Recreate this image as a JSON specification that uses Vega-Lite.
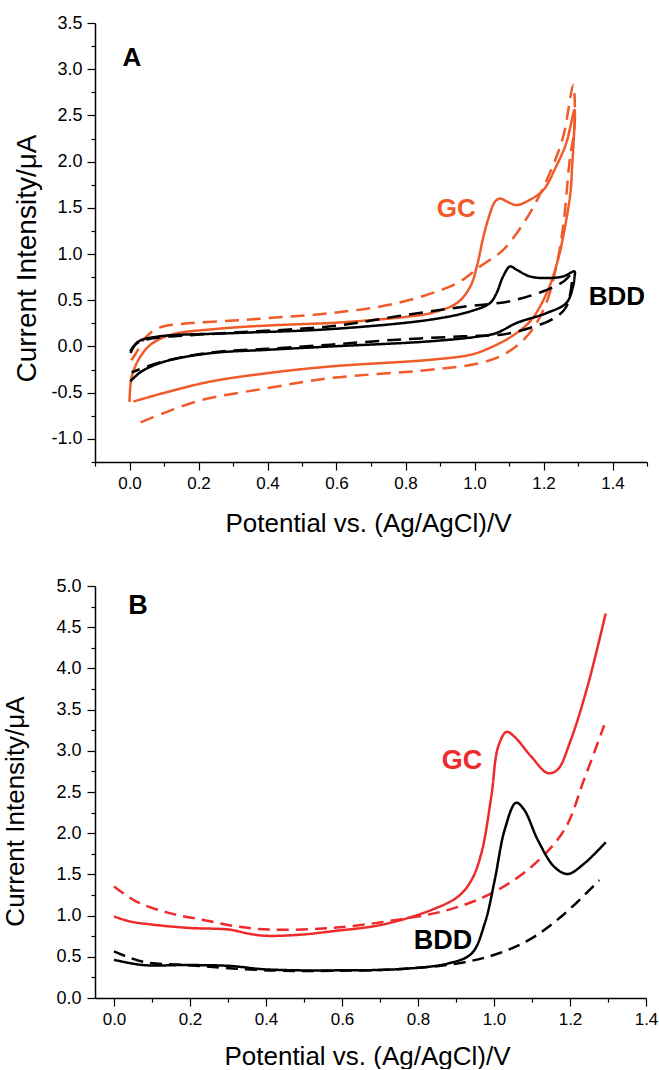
{
  "$schema": "https://vega.github.io/schema/vega-lite/v6.json",
  "background": "white",
  "padding": {"left": 2, "top": 14, "right": 5, "bottom": 0},
  "spacing": 40,
  "config": {
    "view": {"stroke": null},
    "axis": {"grid": false, "domainColor": "#000000", "domainWidth": 1.5, "tickColor": "#000000", "tickWidth": 1.2, "labelColor": "#000000", "titleColor": "#000000", "labelFont": "Liberation Sans", "titleFont": "Liberation Sans", "titleFontWeight": "normal", "labelOverlap": false, "labelFlush": false}
  },
  "resolve": {"scale": {"color": "independent", "strokeDash": "independent"}},
  "datasets": {
    "cvA": [
      {"electrode":"GC","scan":"solid","i":0,"E":0.000,"I":-0.60},
      {"electrode":"GC","scan":"solid","i":1,"E":0.002,"I":-0.45},
      {"electrode":"GC","scan":"solid","i":2,"E":0.007,"I":-0.32},
      {"electrode":"GC","scan":"solid","i":3,"E":0.026,"I":-0.144},
      {"electrode":"GC","scan":"solid","i":4,"E":0.055,"I":0.00},
      {"electrode":"GC","scan":"solid","i":5,"E":0.093,"I":0.09},
      {"electrode":"GC","scan":"solid","i":6,"E":0.141,"I":0.145},
      {"electrode":"GC","scan":"solid","i":7,"E":0.237,"I":0.185},
      {"electrode":"GC","scan":"solid","i":8,"E":0.320,"I":0.21},
      {"electrode":"GC","scan":"solid","i":9,"E":0.450,"I":0.235},
      {"electrode":"GC","scan":"solid","i":10,"E":0.583,"I":0.254},
      {"electrode":"GC","scan":"solid","i":11,"E":0.700,"I":0.285},
      {"electrode":"GC","scan":"solid","i":12,"E":0.800,"I":0.32},
      {"electrode":"GC","scan":"solid","i":13,"E":0.872,"I":0.36},
      {"electrode":"GC","scan":"solid","i":14,"E":0.949,"I":0.47},
      {"electrode":"GC","scan":"solid","i":15,"E":0.988,"I":0.65},
      {"electrode":"GC","scan":"solid","i":16,"E":1.007,"I":0.87},
      {"electrode":"GC","scan":"solid","i":17,"E":1.026,"I":1.19},
      {"electrode":"GC","scan":"solid","i":18,"E":1.045,"I":1.44},
      {"electrode":"GC","scan":"solid","i":19,"E":1.060,"I":1.57},
      {"electrode":"GC","scan":"solid","i":20,"E":1.074,"I":1.60},
      {"electrode":"GC","scan":"solid","i":21,"E":1.093,"I":1.57},
      {"electrode":"GC","scan":"solid","i":22,"E":1.122,"I":1.53},
      {"electrode":"GC","scan":"solid","i":23,"E":1.160,"I":1.586},
      {"electrode":"GC","scan":"solid","i":24,"E":1.199,"I":1.69},
      {"electrode":"GC","scan":"solid","i":25,"E":1.237,"I":1.95},
      {"electrode":"GC","scan":"solid","i":26,"E":1.266,"I":2.20},
      {"electrode":"GC","scan":"solid","i":27,"E":1.290,"I":2.56},
      {"electrode":"GC","scan":"solid","i":28,"E":1.287,"I":2.20},
      {"electrode":"GC","scan":"solid","i":29,"E":1.283,"I":1.95},
      {"electrode":"GC","scan":"solid","i":30,"E":1.278,"I":1.66},
      {"electrode":"GC","scan":"solid","i":31,"E":1.257,"I":1.19},
      {"electrode":"GC","scan":"solid","i":32,"E":1.242,"I":0.94},
      {"electrode":"GC","scan":"solid","i":33,"E":1.213,"I":0.61},
      {"electrode":"GC","scan":"solid","i":34,"E":1.165,"I":0.29},
      {"electrode":"GC","scan":"solid","i":35,"E":1.108,"I":0.11},
      {"electrode":"GC","scan":"solid","i":36,"E":1.035,"I":-0.03},
      {"electrode":"GC","scan":"solid","i":37,"E":0.988,"I":-0.09},
      {"electrode":"GC","scan":"solid","i":38,"E":0.872,"I":-0.144},
      {"electrode":"GC","scan":"solid","i":39,"E":0.583,"I":-0.216},
      {"electrode":"GC","scan":"solid","i":40,"E":0.401,"I":-0.288},
      {"electrode":"GC","scan":"solid","i":41,"E":0.237,"I":-0.378},
      {"electrode":"GC","scan":"solid","i":42,"E":0.112,"I":-0.49},
      {"electrode":"GC","scan":"solid","i":43,"E":0.012,"I":-0.595},
      {"electrode":"GC","scan":"dashed","i":0,"E":0.005,"I":-0.15},
      {"electrode":"GC","scan":"dashed","i":1,"E":0.016,"I":-0.09},
      {"electrode":"GC","scan":"dashed","i":2,"E":0.045,"I":0.09},
      {"electrode":"GC","scan":"dashed","i":3,"E":0.084,"I":0.20},
      {"electrode":"GC","scan":"dashed","i":4,"E":0.180,"I":0.253},
      {"electrode":"GC","scan":"dashed","i":5,"E":0.300,"I":0.28},
      {"electrode":"GC","scan":"dashed","i":6,"E":0.401,"I":0.307},
      {"electrode":"GC","scan":"dashed","i":7,"E":0.583,"I":0.361},
      {"electrode":"GC","scan":"dashed","i":8,"E":0.776,"I":0.469},
      {"electrode":"GC","scan":"dashed","i":9,"E":0.949,"I":0.685},
      {"electrode":"GC","scan":"dashed","i":10,"E":1.016,"I":0.866},
      {"electrode":"GC","scan":"dashed","i":11,"E":1.083,"I":1.045},
      {"electrode":"GC","scan":"dashed","i":12,"E":1.160,"I":1.44},
      {"electrode":"GC","scan":"dashed","i":13,"E":1.218,"I":1.875},
      {"electrode":"GC","scan":"dashed","i":14,"E":1.257,"I":2.27},
      {"electrode":"GC","scan":"dashed","i":15,"E":1.286,"I":2.83},
      {"electrode":"GC","scan":"dashed","i":16,"E":1.290,"I":2.38},
      {"electrode":"GC","scan":"dashed","i":17,"E":1.276,"I":2.02},
      {"electrode":"GC","scan":"dashed","i":18,"E":1.257,"I":1.30},
      {"electrode":"GC","scan":"dashed","i":19,"E":1.237,"I":0.866},
      {"electrode":"GC","scan":"dashed","i":20,"E":1.208,"I":0.47},
      {"electrode":"GC","scan":"dashed","i":21,"E":1.160,"I":0.146},
      {"electrode":"GC","scan":"dashed","i":22,"E":1.093,"I":-0.07},
      {"electrode":"GC","scan":"dashed","i":23,"E":1.016,"I":-0.18},
      {"electrode":"GC","scan":"dashed","i":24,"E":0.872,"I":-0.252},
      {"electrode":"GC","scan":"dashed","i":25,"E":0.583,"I":-0.342},
      {"electrode":"GC","scan":"dashed","i":26,"E":0.401,"I":-0.45},
      {"electrode":"GC","scan":"dashed","i":27,"E":0.209,"I":-0.58},
      {"electrode":"GC","scan":"dashed","i":28,"E":0.100,"I":-0.72},
      {"electrode":"GC","scan":"dashed","i":29,"E":0.016,"I":-0.846},
      {"electrode":"BDD","scan":"solid","i":0,"E":0.002,"I":-0.054},
      {"electrode":"BDD","scan":"solid","i":1,"E":0.026,"I":0.054},
      {"electrode":"BDD","scan":"solid","i":2,"E":0.084,"I":0.108},
      {"electrode":"BDD","scan":"solid","i":3,"E":0.305,"I":0.145},
      {"electrode":"BDD","scan":"solid","i":4,"E":0.583,"I":0.188},
      {"electrode":"BDD","scan":"solid","i":5,"E":0.872,"I":0.29},
      {"electrode":"BDD","scan":"solid","i":6,"E":0.988,"I":0.38},
      {"electrode":"BDD","scan":"solid","i":7,"E":1.045,"I":0.47},
      {"electrode":"BDD","scan":"solid","i":8,"E":1.064,"I":0.578},
      {"electrode":"BDD","scan":"solid","i":9,"E":1.083,"I":0.758},
      {"electrode":"BDD","scan":"solid","i":10,"E":1.103,"I":0.866},
      {"electrode":"BDD","scan":"solid","i":11,"E":1.122,"I":0.83},
      {"electrode":"BDD","scan":"solid","i":12,"E":1.160,"I":0.758},
      {"electrode":"BDD","scan":"solid","i":13,"E":1.208,"I":0.74},
      {"electrode":"BDD","scan":"solid","i":14,"E":1.257,"I":0.758},
      {"electrode":"BDD","scan":"solid","i":15,"E":1.290,"I":0.812},
      {"electrode":"BDD","scan":"solid","i":16,"E":1.290,"I":0.758},
      {"electrode":"BDD","scan":"solid","i":17,"E":1.285,"I":0.64},
      {"electrode":"BDD","scan":"solid","i":18,"E":1.266,"I":0.47},
      {"electrode":"BDD","scan":"solid","i":19,"E":1.208,"I":0.36},
      {"electrode":"BDD","scan":"solid","i":20,"E":1.122,"I":0.254},
      {"electrode":"BDD","scan":"solid","i":21,"E":1.064,"I":0.146},
      {"electrode":"BDD","scan":"solid","i":22,"E":1.016,"I":0.11},
      {"electrode":"BDD","scan":"solid","i":23,"E":0.872,"I":0.056},
      {"electrode":"BDD","scan":"solid","i":24,"E":0.583,"I":0.0},
      {"electrode":"BDD","scan":"solid","i":25,"E":0.401,"I":-0.036},
      {"electrode":"BDD","scan":"solid","i":26,"E":0.237,"I":-0.072},
      {"electrode":"BDD","scan":"solid","i":27,"E":0.103,"I":-0.162},
      {"electrode":"BDD","scan":"solid","i":28,"E":0.035,"I":-0.27},
      {"electrode":"BDD","scan":"solid","i":29,"E":0.002,"I":-0.378},
      {"electrode":"BDD","scan":"dashed","i":0,"E":0.003,"I":-0.07},
      {"electrode":"BDD","scan":"dashed","i":1,"E":0.020,"I":0.03},
      {"electrode":"BDD","scan":"dashed","i":2,"E":0.070,"I":0.09},
      {"electrode":"BDD","scan":"dashed","i":3,"E":0.150,"I":0.115},
      {"electrode":"BDD","scan":"dashed","i":4,"E":0.300,"I":0.15},
      {"electrode":"BDD","scan":"dashed","i":5,"E":0.583,"I":0.218},
      {"electrode":"BDD","scan":"dashed","i":6,"E":0.776,"I":0.326},
      {"electrode":"BDD","scan":"dashed","i":7,"E":0.968,"I":0.43},
      {"electrode":"BDD","scan":"dashed","i":8,"E":1.103,"I":0.49},
      {"electrode":"BDD","scan":"dashed","i":9,"E":1.208,"I":0.61},
      {"electrode":"BDD","scan":"dashed","i":10,"E":1.257,"I":0.70},
      {"electrode":"BDD","scan":"dashed","i":11,"E":1.280,"I":0.77},
      {"electrode":"BDD","scan":"dashed","i":12,"E":1.266,"I":0.43},
      {"electrode":"BDD","scan":"dashed","i":13,"E":1.228,"I":0.30},
      {"electrode":"BDD","scan":"dashed","i":14,"E":1.160,"I":0.20},
      {"electrode":"BDD","scan":"dashed","i":15,"E":1.083,"I":0.13},
      {"electrode":"BDD","scan":"dashed","i":16,"E":0.968,"I":0.11},
      {"electrode":"BDD","scan":"dashed","i":17,"E":0.776,"I":0.074},
      {"electrode":"BDD","scan":"dashed","i":18,"E":0.583,"I":0.02},
      {"electrode":"BDD","scan":"dashed","i":19,"E":0.401,"I":-0.025},
      {"electrode":"BDD","scan":"dashed","i":20,"E":0.237,"I":-0.065},
      {"electrode":"BDD","scan":"dashed","i":21,"E":0.090,"I":-0.17},
      {"electrode":"BDD","scan":"dashed","i":22,"E":0.006,"I":-0.28}
    ],
    "labA": [
      {"label":"A","E":0.007,"I":3.12,"electrode":"BDD"},
      {"label":"GC","E":0.947,"I":1.483,"electrode":"GC"},
      {"label":"BDD","E":1.413,"I":0.54,"electrode":"BDD"}
    ],
    "lsvB": [
      {"electrode":"GC","scan":"solid","i":0,"E":0.000,"I":0.99},
      {"electrode":"GC","scan":"solid","i":1,"E":0.041,"I":0.93},
      {"electrode":"GC","scan":"solid","i":2,"E":0.102,"I":0.89},
      {"electrode":"GC","scan":"solid","i":3,"E":0.198,"I":0.85},
      {"electrode":"GC","scan":"solid","i":4,"E":0.303,"I":0.83},
      {"electrode":"GC","scan":"solid","i":5,"E":0.355,"I":0.78},
      {"electrode":"GC","scan":"solid","i":6,"E":0.399,"I":0.755},
      {"electrode":"GC","scan":"solid","i":7,"E":0.495,"I":0.77},
      {"electrode":"GC","scan":"solid","i":8,"E":0.574,"I":0.81},
      {"electrode":"GC","scan":"solid","i":9,"E":0.705,"I":0.889},
      {"electrode":"GC","scan":"solid","i":10,"E":0.836,"I":1.07},
      {"electrode":"GC","scan":"solid","i":11,"E":0.906,"I":1.233},
      {"electrode":"GC","scan":"solid","i":12,"E":0.941,"I":1.434},
      {"electrode":"GC","scan":"solid","i":13,"E":0.967,"I":1.76},
      {"electrode":"GC","scan":"solid","i":14,"E":0.993,"I":2.45},
      {"electrode":"GC","scan":"solid","i":15,"E":1.011,"I":3.05},
      {"electrode":"GC","scan":"solid","i":16,"E":1.033,"I":3.23},
      {"electrode":"GC","scan":"solid","i":17,"E":1.054,"I":3.17},
      {"electrode":"GC","scan":"solid","i":18,"E":1.098,"I":2.93},
      {"electrode":"GC","scan":"solid","i":19,"E":1.141,"I":2.73},
      {"electrode":"GC","scan":"solid","i":20,"E":1.167,"I":2.77},
      {"electrode":"GC","scan":"solid","i":21,"E":1.202,"I":3.13},
      {"electrode":"GC","scan":"solid","i":22,"E":1.246,"I":3.78},
      {"electrode":"GC","scan":"solid","i":23,"E":1.294,"I":4.667},
      {"electrode":"GC","scan":"dashed","i":0,"E":0.000,"I":1.353},
      {"electrode":"GC","scan":"dashed","i":1,"E":0.059,"I":1.17},
      {"electrode":"GC","scan":"dashed","i":2,"E":0.146,"I":1.03},
      {"electrode":"GC","scan":"dashed","i":3,"E":0.233,"I":0.95},
      {"electrode":"GC","scan":"dashed","i":4,"E":0.320,"I":0.87},
      {"electrode":"GC","scan":"dashed","i":5,"E":0.408,"I":0.83},
      {"electrode":"GC","scan":"dashed","i":6,"E":0.574,"I":0.85},
      {"electrode":"GC","scan":"dashed","i":7,"E":0.748,"I":0.951},
      {"electrode":"GC","scan":"dashed","i":8,"E":0.880,"I":1.07},
      {"electrode":"GC","scan":"dashed","i":9,"E":0.993,"I":1.27},
      {"electrode":"GC","scan":"dashed","i":10,"E":1.098,"I":1.59},
      {"electrode":"GC","scan":"dashed","i":11,"E":1.185,"I":2.04},
      {"electrode":"GC","scan":"dashed","i":12,"E":1.237,"I":2.65},
      {"electrode":"GC","scan":"dashed","i":13,"E":1.290,"I":3.31},
      {"electrode":"BDD","scan":"solid","i":0,"E":0.000,"I":0.464},
      {"electrode":"BDD","scan":"solid","i":1,"E":0.076,"I":0.40},
      {"electrode":"BDD","scan":"solid","i":2,"E":0.190,"I":0.40},
      {"electrode":"BDD","scan":"solid","i":3,"E":0.303,"I":0.39},
      {"electrode":"BDD","scan":"solid","i":4,"E":0.390,"I":0.35},
      {"electrode":"BDD","scan":"solid","i":5,"E":0.495,"I":0.335},
      {"electrode":"BDD","scan":"solid","i":6,"E":0.574,"I":0.335},
      {"electrode":"BDD","scan":"solid","i":7,"E":0.748,"I":0.35},
      {"electrode":"BDD","scan":"solid","i":8,"E":0.880,"I":0.42},
      {"electrode":"BDD","scan":"solid","i":9,"E":0.941,"I":0.54},
      {"electrode":"BDD","scan":"solid","i":10,"E":0.976,"I":0.91},
      {"electrode":"BDD","scan":"solid","i":11,"E":1.002,"I":1.434},
      {"electrode":"BDD","scan":"solid","i":12,"E":1.028,"I":2.04},
      {"electrode":"BDD","scan":"solid","i":13,"E":1.058,"I":2.37},
      {"electrode":"BDD","scan":"solid","i":14,"E":1.080,"I":2.28},
      {"electrode":"BDD","scan":"solid","i":15,"E":1.115,"I":1.92},
      {"electrode":"BDD","scan":"solid","i":16,"E":1.159,"I":1.59},
      {"electrode":"BDD","scan":"solid","i":17,"E":1.194,"I":1.505},
      {"electrode":"BDD","scan":"solid","i":18,"E":1.237,"I":1.63},
      {"electrode":"BDD","scan":"solid","i":19,"E":1.294,"I":1.89},
      {"electrode":"BDD","scan":"dashed","i":0,"E":0.000,"I":0.565},
      {"electrode":"BDD","scan":"dashed","i":1,"E":0.076,"I":0.44},
      {"electrode":"BDD","scan":"dashed","i":2,"E":0.190,"I":0.40},
      {"electrode":"BDD","scan":"dashed","i":3,"E":0.408,"I":0.335},
      {"electrode":"BDD","scan":"dashed","i":4,"E":0.574,"I":0.33},
      {"electrode":"BDD","scan":"dashed","i":5,"E":0.748,"I":0.35},
      {"electrode":"BDD","scan":"dashed","i":6,"E":0.906,"I":0.42},
      {"electrode":"BDD","scan":"dashed","i":7,"E":1.011,"I":0.54},
      {"electrode":"BDD","scan":"dashed","i":8,"E":1.098,"I":0.72},
      {"electrode":"BDD","scan":"dashed","i":9,"E":1.185,"I":1.02},
      {"electrode":"BDD","scan":"dashed","i":10,"E":1.277,"I":1.43}
    ],
    "labB": [
      {"label":"B","E":0.063,"I":4.755,"electrode":"BDD"},
      {"label":"GC","E":0.916,"I":2.874,"electrode":"GC"},
      {"label":"BDD","E":0.866,"I":0.697,"electrode":"BDD"}
    ]
  },
  "vconcat": [
    {
      "width": 552,
      "height": 439,
      "encoding": {
        "x": {"field": "E", "type": "quantitative", "scale": {"domain": [-0.1, 1.5], "nice": false, "zero": false},
          "axis": {"values": [-0.1,0,0.1,0.2,0.3,0.4,0.5,0.6,0.7,0.8,0.9,1.0,1.1,1.2,1.3,1.4,1.5],
            "title": "Potential vs. (Ag/AgCl)/V", "titleFontSize": 26, "titleX": 273, "titleY": 69.7, "titleBaseline": "alphabetic", "titleAlign": "center", "titleAnchor": null,
            "labelFontSize": 17, "labelPadding": 5,
            "labelExpr": "(round(datum.value*10) % 2 != 0 || datum.value > 1.45) ? '' : format(datum.value, '.1f')",
            "tickSize": {"condition": {"test": "round(datum.value*10) % 2 != 0", "value": 4}, "value": 8}}},
        "y": {"field": "I", "type": "quantitative", "scale": {"domain": [-1.25, 3.5], "nice": false, "zero": false},
          "axis": {"values": [-1.25,-1,-0.75,-0.5,-0.25,0,0.25,0.5,0.75,1,1.25,1.5,1.75,2,2.25,2.5,2.75,3,3.25,3.5],
            "title": "Current Intensity/μA", "titleFontSize": 28, "titleX": -60, "titleY": 235, "titleAngle": 270, "titleBaseline": "alphabetic", "titleAlign": "center", "titleAnchor": null,
            "labelFontSize": 18, "labelPadding": 5,
            "labelExpr": "round(datum.value*4) % 2 != 0 ? '' : replace(format(datum.value, '.1f'), '\u2212', '-')",
            "tickSize": {"condition": {"test": "round(datum.value*4) % 2 != 0", "value": 4}, "value": 8}}},
        "color": {"field": "electrode", "type": "nominal", "scale": {"domain": ["GC", "BDD"], "range": ["#F15A29", "#000000"]}, "legend": null}
      },
      "layer": [
        {
          "data": {"name": "cvA"},
          "mark": {"type": "line", "strokeWidth": 2.5, "interpolate": "catmull-rom"},
          "encoding": {
            "strokeDash": {"field": "scan", "type": "nominal", "scale": {"domain": ["solid", "dashed"], "range": [[1, 0], [14, 8]]}, "legend": null},
            "order": {"field": "i", "type": "quantitative"}
          }
        },
        {
          "data": {"name": "labA"},
          "mark": {"type": "text", "font": "Liberation Sans", "fontWeight": "bold", "fontSize": 26, "align": "center", "baseline": "middle", "clip": false},
          "encoding": {"text": {"field": "label"}}
        }
      ]
    },
    {
      "width": 551,
      "height": 412,
      "encoding": {
        "x": {"field": "E", "type": "quantitative", "scale": {"domain": [-0.05, 1.4], "nice": false, "zero": false},
          "axis": {"values": [0,0.1,0.2,0.3,0.4,0.5,0.6,0.7,0.8,0.9,1.0,1.1,1.2,1.3,1.4],
            "title": "Potential vs. (Ag/AgCl)/V", "titleFontSize": 26, "titleX": 272, "titleY": 66, "titleBaseline": "alphabetic", "titleAlign": "center", "titleAnchor": null,
            "labelFontSize": 17, "labelPadding": 5,
            "labelExpr": "round(datum.value*10) % 2 != 0 ? '' : format(datum.value, '.1f')",
            "tickSize": {"condition": {"test": "round(datum.value*10) % 2 != 0", "value": 4}, "value": 8}}},
        "y": {"field": "I", "type": "quantitative", "scale": {"domain": [0, 5], "nice": false, "zero": false},
          "axis": {"values": [0,0.25,0.5,0.75,1,1.25,1.5,1.75,2,2.25,2.5,2.75,3,3.25,3.5,3.75,4,4.25,4.5,4.75,5],
            "title": "Current Intensity/μA", "titleFontSize": 26, "titleX": -72, "titleY": 225, "titleAngle": 270, "titleBaseline": "alphabetic", "titleAlign": "center", "titleAnchor": null,
            "labelFontSize": 18, "labelPadding": 6,
            "labelExpr": "round(datum.value*4) % 2 != 0 ? '' : format(datum.value, '.1f')",
            "tickSize": {"condition": {"test": "round(datum.value*4) % 2 != 0", "value": 4}, "value": 8}}},
        "color": {"field": "electrode", "type": "nominal", "scale": {"domain": ["GC", "BDD"], "range": ["#EE2A2A", "#000000"]}, "legend": null}
      },
      "layer": [
        {
          "data": {"name": "lsvB"},
          "mark": {"type": "line", "strokeWidth": 2.5, "interpolate": "catmull-rom"},
          "encoding": {
            "strokeDash": {"field": "scan", "type": "nominal", "scale": {"domain": ["solid", "dashed"], "range": [[1, 0], [12, 7]]}, "legend": null},
            "order": {"field": "i", "type": "quantitative"}
          }
        },
        {
          "data": {"name": "labB"},
          "mark": {"type": "text", "font": "Liberation Sans", "fontWeight": "bold", "fontSize": 27, "align": "center", "baseline": "middle", "clip": false},
          "encoding": {"text": {"field": "label"}}
        }
      ]
    }
  ]
}
